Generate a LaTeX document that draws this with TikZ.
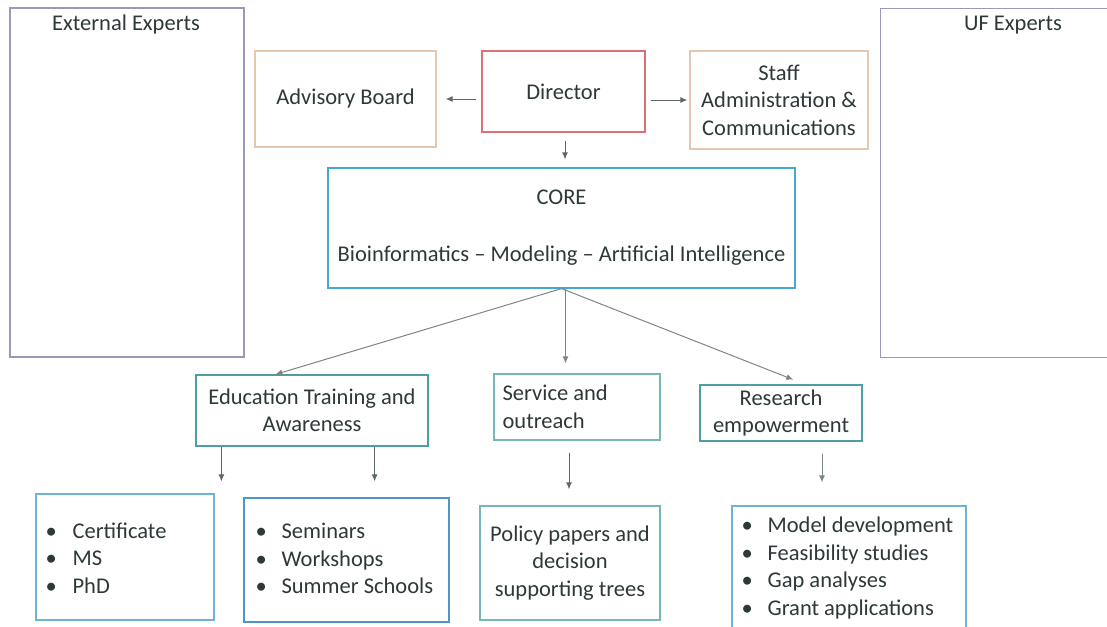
\documentclass[tikz,border=0pt]{standalone}
\usepackage{fontspec}
\setmainfont{Carlito}
\usetikzlibrary{arrows.meta}
\definecolor{txt}{HTML}{2E3838}
\definecolor{cext}{HTML}{9A98BC}
\definecolor{corange}{HTML}{E8C6AC}
\definecolor{cred}{HTML}{DE7070}
\definecolor{ccore}{HTML}{46A6D6}
\definecolor{cteal}{HTML}{4E9EA6}
\definecolor{cteal2}{HTML}{76B6B8}
\definecolor{cblue}{HTML}{6CB4D6}
\definecolor{cblue2}{HTML}{4E96C6}
\definecolor{carrow}{HTML}{5E6666}
\newcommand{\bl}[2][27pt]{\makebox[#1][l]{\textbullet}#2}
\tikzset{
  box/.style={draw, line width=1.2pt, inner sep=0pt, align=center, text=txt,
    font=\fontsize{22.5}{27.5}\selectfont},
  title/.style={text=txt, inner sep=0pt, align=left, font=\fontsize{22.5}{27.5}\selectfont},
  arr/.style={draw=carrow, line width=1pt, -{Latex[length=7pt,width=6pt]}},
  arrg/.style={draw=carrow!80, line width=1pt, -{Latex[length=7pt,width=6pt]}}
}
\begin{document}
\begin{tikzpicture}[x=1pt,y=-1pt]
\useasboundingbox (0,0) rectangle (1107,626);
% side panels
\node[box, draw=cext, minimum width=234pt, minimum height=349pt] (ext) at (127,182.5) {};
\node[title] (exttitle) at (126,25) {External Experts};
\node[box, draw=cext, minimum width=240pt, minimum height=349pt, anchor=north west] (uf) at (880,8) {};
\node[title] (uftitle) at (1013,25) {UF Experts};
% top row
\node[box, draw=corange, minimum width=181pt, minimum height=96pt] (adv) at (345.5,99) {Advisory Board};
\node[box, draw=cred, minimum width=163pt, minimum height=81pt] (dir) at (563.5,91.5) {Director};
\node[box, draw=corange, minimum width=178pt, minimum height=98pt] (staff) at (779,100) {Staff\\Administration \&\\Communications};
% core
\node[box, draw=ccore, minimum width=467pt, minimum height=120pt] (core) at (561.5,228) {CORE\\[29.5pt]Bioinformatics – Modeling – Artificial Intelligence};
% middle row
\node[box, draw=cteal, minimum width=232pt, minimum height=71pt] (edu) at (312,410.5) {Education Training and\\Awareness};
\node[box, draw=cteal2, minimum width=166pt, minimum height=66pt] (serv) at (577,407) {};
\node[title, anchor=west] (servtext) at ([xshift=9pt]serv.west) {Service and\\outreach};
\node[box, draw=cteal, minimum width=162pt, minimum height=56pt] (res) at (781,413) {Research\\empowerment};
% bottom row
\node[box, draw=cblue, minimum width=178pt, minimum height=126pt] (cert) at (125,557) {};
\node[title, anchor=west] (certtext) at ([xshift=10pt,yshift=-1pt]cert.west) {\bl{Certificate}\\\bl{MS}\\\bl{PhD}};
\node[box, draw=cblue2, minimum width=205pt, minimum height=124pt] (sem) at (346.5,560) {};
\node[title, anchor=west] (semtext) at ([xshift=12pt,yshift=1.5pt]sem.west) {\bl[26pt]{Seminars}\\\bl[26pt]{Workshops}\\\bl[26pt]{Summer Schools}};
\node[box, draw=cteal2, minimum width=180pt, minimum height=114pt] (pol) at (570,563) {Policy papers and\\decision\\supporting trees};
\node[box, draw=cblue, minimum width=234pt, minimum height=124pt] (rlist) at (849,568) {};
\node[title, anchor=west] (rlisttext) at ([xshift=10pt]rlist.west) {\bl[26pt]{Model development}\\\bl[26pt]{Feasibility studies}\\\bl[26pt]{Gap analyses}\\\bl[26pt]{Grant applications}};
% connectors
\draw[arr, shorten <=5pt, shorten >=9pt] (adv.east -| dir.west) -- (adv.east);
\draw[arr, shorten <=5pt, shorten >=2pt] (staff.west -| dir.east) -- (staff.west);
\draw[arr, shorten <=8pt, shorten >=8pt] ([xshift=1.5pt]dir.south) -- ([xshift=1.5pt]dir.south |- core.north);
\coordinate (ce) at ([xshift=80pt]edu.north west);
\coordinate (cr) at ([xshift=106pt]res.north west);
\draw[arrg, shorten >=0pt] (core.south) -- (ce);
\draw[arrg, shorten >=10pt] ([xshift=4pt]core.south) -- ([xshift=4pt]core.south |- serv.north);
\draw[arrg, shorten >=13pt] (core.south) -- (cr);
\draw[arr, shorten >=12pt] ([xshift=26pt]edu.south west) -- ([xshift=26pt]edu.south west |- cert.north);
\draw[arr, shorten >=16pt] ([xshift=-54pt]edu.south east) -- ([xshift=-54pt]edu.south east |- sem.north);
\draw[arr, shorten <=12pt, shorten >=16pt] ([xshift=-8pt]serv.south) -- ([xshift=-8pt]serv.south |- pol.north);
\draw[arrg, shorten <=12pt, shorten >=23pt] ([xshift=41pt]res.south) -- ([xshift=41pt]res.south |- rlist.north);
\end{tikzpicture}
\end{document}
